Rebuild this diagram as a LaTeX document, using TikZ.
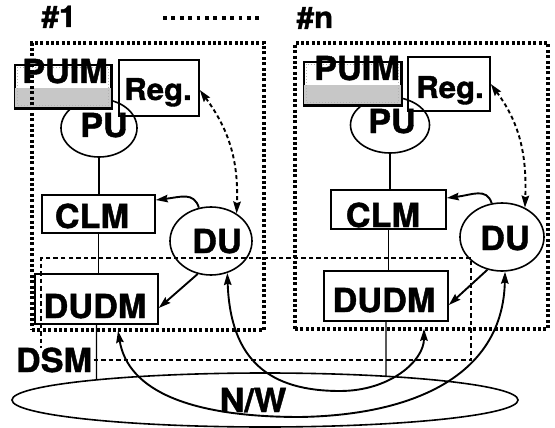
\documentclass[tikz,border=0pt]{standalone}
\usepackage{fontspec}
\setmainfont{TeX Gyre Heros}[FakeStretch=1.04, BoldFeatures={FakeBold=1.2}]
\usetikzlibrary{arrows.meta,shapes.geometric,intersections,fit}

\begin{document}
\begin{tikzpicture}[x=1pt,y=-1pt,
  lbl/.style={font=\fontsize{33}{33}\selectfont\bfseries, inner sep=0pt, anchor=base},
  reglbl/.style={lbl, font=\fontsize{30}{30}\selectfont\bfseries},
  numlbl/.style={lbl, font=\fontsize{30}{30}\selectfont\bfseries},
  unitbox/.style={draw, line width=1.6pt, inner sep=0pt, rectangle},
  oval/.style={draw, line width=1.6pt, ellipse, inner sep=0pt},
  nodeframe/.style={draw, inner sep=0pt, line width=3.2pt, dash pattern=on 3pt off 2.4pt},
  dsmframe/.style={draw, inner sep=0pt, line width=1.4pt, dash pattern=on 4.5pt off 3pt},
  link/.style={line width=1.3pt},
  tipend/.style={-{Stealth[length=12pt,width=7.5pt,inset=1.5pt]}},
  tipboth/.style={{Stealth[length=12pt,width=7.5pt,inset=1.5pt]}-{Stealth[length=12pt,width=7.5pt,inset=1.5pt]}},
  flow/.style={line width=1.9pt},
  stipple/.style={fill=black!22},
]
\useasboundingbox (0,0) rectangle (555,428);
\fill[white] (0,0) rectangle (555,428);

% distributed shared memory region
\node[dsmframe, fit={(41,258) (471,360)}] (DSMbox) {};

% processing units (drawn first, partly hidden by the instruction memories)
\node[oval, minimum width=76pt, minimum height=58pt] (PU1) at (99,128) {};
\node[oval, minimum width=79pt, minimum height=56pt] (PUn) at (390,125) {};

% instruction memories
\foreach \nm/\ax/\ay/\bx/\by in {PUIM1/15/65/111/108, PUIMn/304/62/401/105}{
  \node[unitbox, fill=white, line width=1.2pt, fit={(\ax,\ay) (\bx,\by)}] (\nm) {};
  \fill[stipple] ([shift={(0.6pt,0.6pt)}]\nm.south west) rectangle ([shift={(-0.6pt,21pt)}]\nm.south east);
  \draw[black!30, line width=1pt, dotted] ([shift={(3pt,-3pt)}]\nm.north west) rectangle ([shift={(-3pt,3pt)}]\nm.south east);
  \draw[line width=2.2pt] (\nm.north east) -- (\nm.south east) -- (\nm.south west);
}

% registers
\node[unitbox, fit={(119,60) (199,116)}] (Reg1) {};
\node[unitbox, fit={(408,57) (490,111)}] (Regn) {};

% cache/local memories, DU data memories, distribution units
\node[unitbox, fit={(42,195) (155,233)}] (CLM1) {};
\node[unitbox, fit={(331,190) (446,229)}] (CLMn) {};
\node[unitbox, fit={(35,274) (158,324)}] (DUDM1) {};
\node[unitbox, fit={(324,271) (448,321)}] (DUDMn) {};
\node[oval, minimum width=82pt, minimum height=68pt] (DU1) at (211,241) {};
\node[oval, minimum width=84pt, minimum height=68pt] (DUn) at (502,237) {};

% network
\node[oval, minimum width=506pt, minimum height=54pt] (NW) at (265,400) {};
\path[name path=nwpath] (NW.center) ellipse [x radius=253, y radius=27];

% processing element frames
\node[nodeframe, fit={(32,43) (264,330)}] (PE1) {};
\node[nodeframe, fit={(295,43) (548,329)}] (PEn) {};

% separator between the first and the last element
\coordinate (sepL) at (163,18);
\coordinate (sepR) at (260,18);
\draw[line width=3.8pt, dash pattern=on 3.8pt off 4.6pt] (sepL) -- (sepR);

% labels
\node[numlbl] (t1) at (59,27) {\#1};
\node[numlbl] (tn) at (315,28) {\#n};
\node[lbl] (tPUIM1) at (65,83) {PUIM};
\node[lbl] (tPUIMn) at (357,80) {PUIM};
\node[reglbl] (tReg1) at (158,100) {Reg.};
\node[reglbl] (tRegn) at (450,98) {Reg.};
\node[lbl] (tPU1) at (104,137) {PU};
\node[lbl] (tPUn) at (392,133) {PU};
\node[lbl] (tCLM1) at (92,228) {CLM};
\node[lbl] (tCLMn) at (383,227) {CLM};
\node[lbl] (tDU1) at (217,253) {DU};
\node[lbl] (tDUn) at (505,250) {DU};
\node[lbl] (tDUDM1) at (95,318) {DUDM};
\node[lbl] (tDUDMn) at (384,312) {DUDM};
\node[lbl, fill=white, inner xsep=1pt] (tDSM) at (54,372) {DSM};
\node[lbl] (tNW) at (253,412) {N/W};

% plain links
\draw[link] (PU1.south) -- (PU1.south |- CLM1.north);
\draw[link] (PUn.south) -- (PUn.south |- CLMn.north);
\draw[link] (CLM1.south) -- (CLM1.south |- DUDM1.north);
\draw[link] (CLMn.south) -- (CLMn.south |- DUDMn.north);
\path[name path=drop1] (DUDM1.south) -- ++(0,80);
\path[name path=dropn] (DUDMn.south) -- ++(0,80);
\path[name intersections={of=drop1 and nwpath, by={nw1}}];
\path[name intersections={of=dropn and nwpath, by={nwn}}];
\draw[link] (DUDM1.south) -- (nw1);
\draw[link] (DUDMn.south) -- (nwn);

% register <-> distribution unit
\draw[flow, tipboth, dash pattern=on 4pt off 3pt] ([yshift=-2pt]Reg1.east) .. controls +(28,38) and +(2,-55) .. (DU1.47);
\draw[flow, tipboth, dash pattern=on 4pt off 3pt] (Regn.east) .. controls +(28,38) and +(2,-55) .. (DUn.52);

% distribution unit -> local memories
\draw[flow, tipend] (DU1.110) .. controls +(-5,-16) and +(25,-3) .. ([yshift=14pt]CLM1.east);
\draw[flow, tipend] (DUn.107) .. controls +(-5,-16) and +(25,-3) .. ([yshift=11.5pt]CLMn.east);
\draw[flow, tipend] (DU1.-112) -- ([yshift=-9pt]DUDM1.east);
\draw[flow, tipend] (DUn.-114) -- ([yshift=-9pt]DUDMn.east);

% transfers across the network
\coordinate (wA) at (300,417);
\coordinate (wB) at (340,391);
\draw[flow, tipboth] ([xshift=21.5pt,yshift=-6pt]DUDM1.south) .. controls +(10,60) and +(-110,0) .. (wA)
  .. controls +(120,-2) and +(-2,100) .. (DUn.-85);
\draw[flow, tipboth] (DU1.-63) .. controls +(3,88) and +(-70,0) .. (wB)
  .. controls +(50,0) and +(0,32) .. ([xshift=38pt,yshift=-7pt]DUDMn.south);
\end{tikzpicture}
\end{document}
